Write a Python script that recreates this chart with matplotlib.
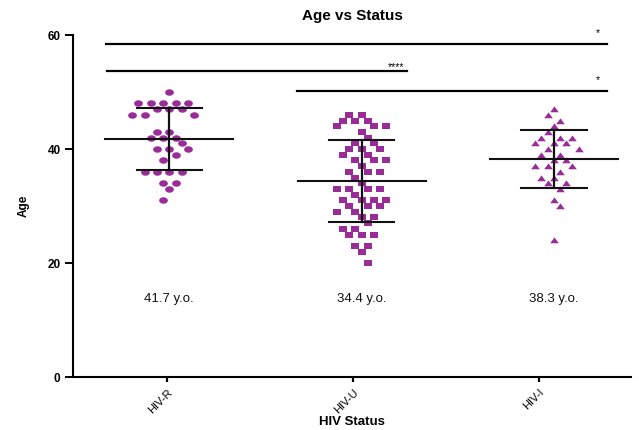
import numpy as np
import matplotlib
matplotlib.use("Agg")
import matplotlib.pyplot as plt
from matplotlib.path import Path
from matplotlib.markers import MarkerStyle

plt.rcParams['font.family'] = ['Liberation Sans', 'DejaVu Sans']

# ---------------- data ----------------
categories = ["HIV-R", "HIV-U", "HIV-I"]
hiv_r = [50, 48, 48, 48, 48, 48, 47, 47, 47, 46, 46, 46, 43, 43, 42, 42, 42, 41,
         40, 40, 40, 39, 38, 36, 36, 36, 36, 34, 34, 33, 31]
hiv_u = [46, 46, 45, 45, 45, 44, 44, 44, 43, 42, 41, 41, 40, 40, 40, 39, 39,
         38, 38, 38, 37, 36, 36, 36, 35, 34, 33, 33, 33, 33, 32, 31, 31, 31, 31,
         30, 30, 30, 29, 29, 28, 28, 27, 26, 26, 25, 25, 25, 23, 23, 22, 20]
hiv_i = [47, 46, 45, 44, 43, 42, 42, 42, 41, 41, 41, 40, 40, 39, 39, 38, 38,
         37, 37, 37, 36, 35, 35, 34, 34, 33, 31, 30, 24]
mean_labels = ["41.7 y.o.", "34.4 y.o.", "38.3 y.o."]
comparisons = [(0, 2, "*"), (0, 1, "****"), (1, 2, "*")]
y_ticks = [0, 20, 40, 60]

groups = [hiv_r, hiv_u, hiv_i]

# ---------------- layout constants ----------------
W, H = 639, 430
PX_X = 192.3   # pixels per x unit
PX_Y = 5.7     # pixels per y unit
STEP = 6.2     # half marker spacing in px
COLOR = '#9A2C98'


def collides(c, y, placed):
    for px, py in placed:
        dy = abs(y - py)
        dx = abs(c - px)
        if dy < 2 and dx < 11:
            return True
        if dy < 12.5 and dx < 5:
            return True
    return False


def swarm(vals, center):
    """Row based beeswarm layout (GraphPad-like)."""
    vals = np.asarray(vals, float)
    xs = np.zeros(len(vals))
    placed = []
    shifts = [0.0]
    for m in range(1, 12):
        shifts += [m * STEP, -m * STEP]
    for r, v in enumerate(sorted(set(vals), reverse=True)):
        idx = np.where(vals == v)[0]
        n = len(idx)
        y = v * PX_Y
        row = []
        for k in range(n):
            sign = 1 if (k + r) % 2 == 0 else -1
            for s in shifts:
                c = sign * s
                if not collides(c, y, placed + row):
                    row.append((c, y))
                    break
        for k, i in enumerate(idx):
            xs[i] = center + row[k][0] / PX_X
        placed += row
    return xs


def make_marker(kind):
    if kind == 'ellipse':
        p = Path.unit_circle()
        verts = p.vertices * np.array([1.35, 1.0])
        return MarkerStyle(Path(verts, p.codes))
    if kind == 'rect':
        verts = [(-0.8, -0.5), (0.8, -0.5), (0.8, 0.5), (-0.8, 0.5), (-0.8, -0.5)]
        return MarkerStyle(Path(verts, closed=True))
    verts = [(-0.7, -0.45), (0.7, -0.45), (0.0, 0.5), (-0.7, -0.45)]
    return MarkerStyle(Path(verts, closed=True))


markers = [make_marker('ellipse'), make_marker('rect'), make_marker('tri')]
msizes = [6.3, 6.2, 6.2]

fig = plt.figure(figsize=(W / 100, H / 100), dpi=100)
ax = fig.add_axes([73 / W, 1 - 377 / H, (631 - 73) / W, (377 - 35) / H])

centers = np.arange(len(categories))
for g, vals in enumerate(groups):
    xs = swarm(vals, centers[g])
    ax.plot(xs, vals, linestyle='none', marker=markers[g], markersize=msizes[g],
            color=COLOR, markeredgewidth=0, zorder=2)
    m = np.mean(vals)
    sd = np.std(vals, ddof=1)
    ax.plot([centers[g] - 0.333, centers[g] + 0.333], [m, m], color='#111111', lw=1.5, zorder=3)
    ax.plot([centers[g], centers[g]], [m - sd, m + sd], color='#111111', lw=1.6, zorder=3)
    for yy in (m - sd, m + sd):
        ax.plot([centers[g] - 0.17, centers[g] + 0.17], [yy, yy], color='#111111', lw=1.5, zorder=3)
    ax.text(centers[g], 13.7, mean_labels[g], ha='center', va='center', fontsize=9.5, color='#111111')

# significance bars
bar_specs = [(-0.331, 2.275, 58.5, 2.229, 60.4),
             (-0.322, 1.234, 53.7, 1.179, 54.4),
             (0.662, 2.275, 50.2, 2.229, 52.1)]
for (a, b, lab), (x0, x1, yl, xs_, ys_) in zip(comparisons, bar_specs):
    ax.plot([x0, x1], [yl, yl], color='black', lw=1.6, clip_on=False, zorder=3)
    ax.text(xs_, ys_, lab, ha='center', va='center', fontsize=7.5, color='black')

ax.set_xlim(-0.5008, 2.401)
ax.set_ylim(0, 60)
ax.set_yticks(y_ticks)
ax.set_yticklabels([str(t) for t in y_ticks], fontsize=8.5, fontweight='bold')
ax.set_xticks([-0.012, 0.956, 1.923])
ax.set_xticklabels(categories, fontsize=8, rotation=45, ha='right', rotation_mode='anchor')

for s in ('top', 'right'):
    ax.spines[s].set_visible(False)
for s in ('left', 'bottom'):
    ax.spines[s].set_linewidth(1.5)
ax.tick_params(axis='y', direction='out', length=6, width=1.4, pad=3)
ax.tick_params(axis='x', direction='out', length=3.5, width=1.6, pad=4)

ax.set_title("Age vs Status", fontsize=11, fontweight='bold', pad=11)
ax.set_xlabel("HIV Status", fontsize=9.5, fontweight='bold')
ax.xaxis.set_label_coords(0.5, -(422 - 377) / (377 - 35), transform=ax.transAxes)
ax.xaxis.label.set_va('center')
ax.set_ylabel("Age", fontsize=8.5, fontweight='bold')
ax.yaxis.set_label_coords(-(73 - 24) / (631 - 73), 0.5, transform=ax.transAxes)
ax.yaxis.label.set_va('center')

fig.savefig("out.png", dpi=100)
